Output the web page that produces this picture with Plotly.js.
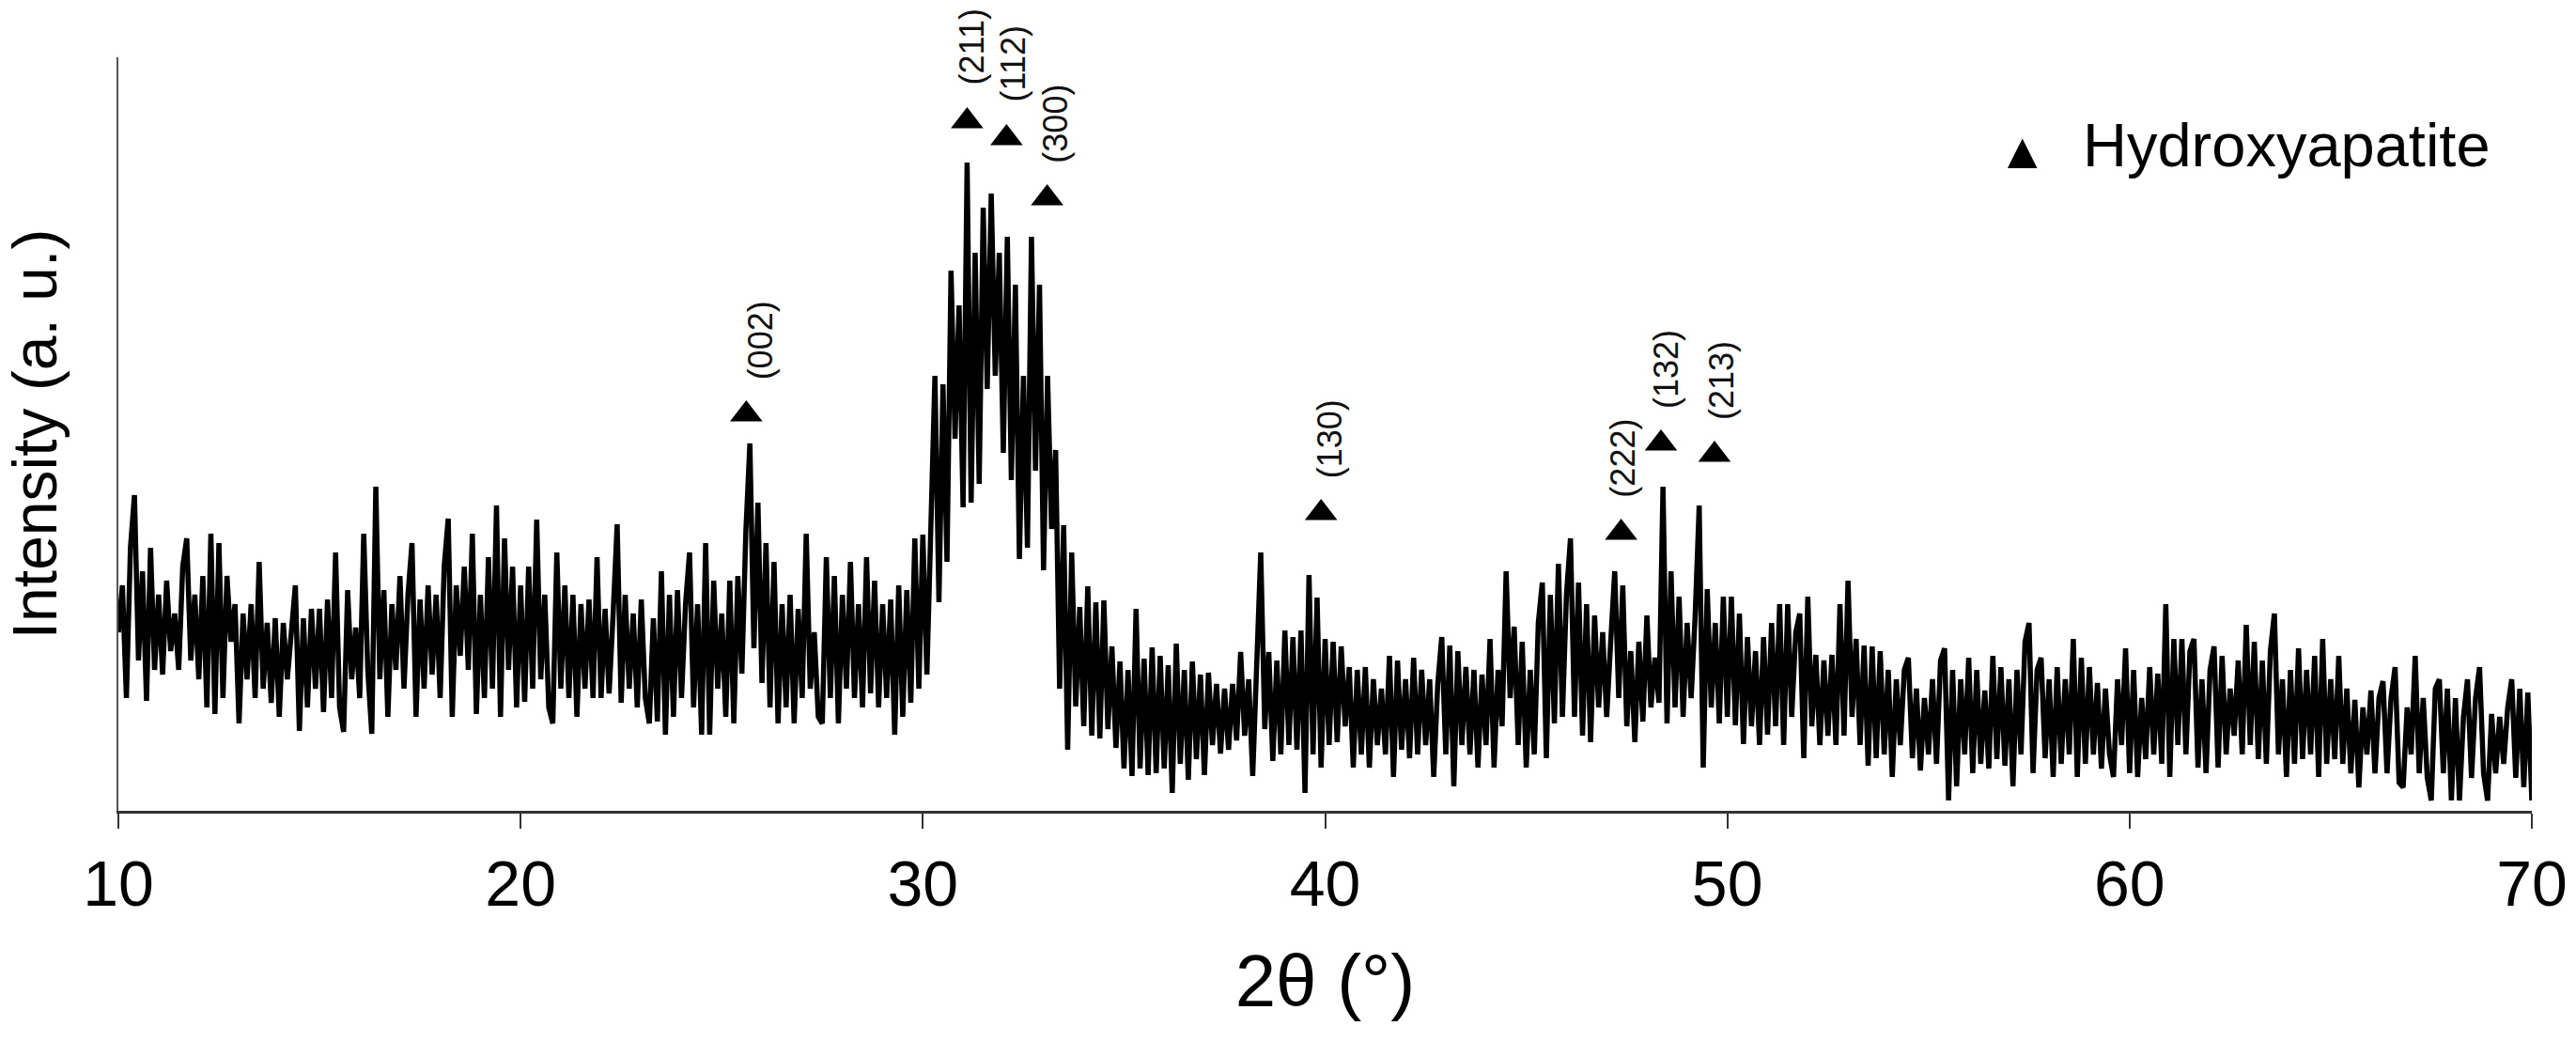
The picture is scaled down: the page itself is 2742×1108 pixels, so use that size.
<!DOCTYPE html>
<html>
<head>
<meta charset="utf-8">
<script src="https://cdn.plot.ly/plotly-3.0.1.min.js"></script>
<style>
  html, body { margin: 0; padding: 0; background: #fff; }
  #chart { width: 2742px; height: 1108px; }
</style>
</head>
<body>
<div id="chart"></div>
<script>
// ---------------- DATA ----------------
// XRD scan: 2θ from 10° to 70°, one reading every 0.1°
const scanStart = 10;
const scanStep = 0.1;
// intensity (a. u.), 10 readings per degree
const intensity = [
  190,240,120,280,336,160,255,117,280,150,   // 10
  230,145,245,170,210,150,260,290,160,230,   // 11
  140,250,110,295,103,285,120,250,180,220,   // 12
  93,210,140,220,120,265,130,200,115,205,    // 13
  100,200,140,195,240,85,205,110,215,130,    // 14
  215,105,225,120,275,110,84,235,140,195,    // 15
  120,295,150,82,345,140,235,100,220,150,    // 16
  250,130,230,285,100,225,130,240,145,230,   // 17
  120,260,311,100,240,165,260,150,295,103,   // 18
  230,120,270,130,325,100,290,150,260,110,   // 19
  240,116,260,130,310,140,230,110,93,275,    // 20
  130,240,120,230,100,220,130,225,120,270,   // 21
  120,215,125,210,305,115,230,130,210,110,   // 22
  225,120,93,205,95,255,81,230,100,235,      // 23
  120,220,275,110,220,81,285,81,245,130,     // 24
  210,100,245,93,250,146,298,391,173,328,    // 25
  136,285,110,265,93,220,110,230,93,215,     // 26
  120,295,130,190,100,93,270,120,250,93,     // 27
  230,130,265,120,220,110,270,125,245,110,   // 28
  220,120,225,81,240,100,235,115,290,130,    // 29
  294,145,321,463,222,454,265,575,396,538,   // 30
  323,690,328,594,348,642,449,657,463,594,   // 31
  381,611,352,560,268,463,280,611,362,560,   // 32
  256,463,300,384,130,304,65,275,111,217,    // 33
  90,239,80,222,77,224,87,175,67,159,        // 34
  45,150,37,215,45,162,38,174,40,165,        // 35
  45,155,19,178,50,150,33,159,55,145,        // 36
  38,147,70,135,61,130,65,135,75,169,        // 37
  80,140,37,150,275,87,169,53,160,60,        // 38
  192,70,185,65,192,19,251,60,227,46,        // 39
  183,70,180,73,175,90,153,46,150,60,        // 40
  153,46,140,70,130,60,165,36,160,65,        // 41
  140,56,163,60,150,70,140,36,135,185,       // 42
  60,176,26,170,70,153,60,150,46,145,        // 43
  70,183,46,150,90,255,120,196,70,180,       // 44
  46,150,60,200,243,56,230,93,263,100,       // 45
  230,290,100,243,80,220,73,208,110,190,     // 46
  100,180,255,120,240,90,170,73,180,95,      // 47
  208,110,163,115,345,93,255,110,228,100,    // 48
  200,120,208,325,46,236,110,200,93,228,     // 49
  100,228,91,210,71,185,90,170,70,185,       // 50
  81,200,90,220,70,220,100,190,210,56,       // 51
  228,90,166,70,160,80,166,70,220,80,        // 52
  245,100,183,70,176,48,175,56,170,60,       // 53
  150,36,140,70,150,163,56,130,43,120,       // 54
  60,140,50,160,173,11,150,26,140,60,        // 55
  163,40,150,50,128,45,165,55,153,48,        // 56
  140,26,150,60,180,200,40,150,163,56,       // 57
  140,36,153,50,140,60,183,36,163,50,        // 58
  153,60,136,45,130,60,36,140,70,173,        // 59
  40,150,36,120,55,153,60,146,50,220,        // 60
  36,183,70,183,60,170,183,46,140,40,        // 61
  150,175,46,165,60,130,80,160,60,198,       // 62
  70,180,55,160,50,170,210,60,140,36,        // 63
  150,50,173,55,150,60,165,36,183,50,        // 64
  140,55,165,50,130,40,118,25,110,60,        // 65
  128,40,120,138,40,120,153,30,25,110,       // 66
  60,165,40,120,35,11,130,140,40,130,        // 67
  11,120,11,100,140,35,120,153,40,11,        // 68
  103,40,100,50,110,140,35,130,25,126,       // 69
  11                                         // 70
];

// Hydroxyapatite reflections
const peakTwoTheta = [25.61, 31.10, 32.08, 33.09, 39.90, 47.36, 48.35, 49.68];
const peakMarkerY  = [422, 734, 716, 652, 317, 296, 391, 379];
const peakLabels   = ['(002)', '(211)', '(112)', '(300)', '(130)', '(222)', '(132)', '(213)'];

const xTickValues = [10, 20, 30, 40, 50, 60, 70];
const xTickLabels = ['10', '20', '30', '40', '50', '60', '70'];
const phaseName = 'Hydroxyapatite';

// ---------------- STYLE ----------------
const FONT = 'Liberation Sans, Arial, Helvetica, sans-serif';
const labelXShift = [15, 5, 7, 8, 9, 1, 5, 7];
const labelYShift = 79;

const twoTheta = intensity.map((_, i) => +(scanStart + scanStep * i).toFixed(2));

const traces = [
  {
    type: 'scatter', mode: 'lines',
    x: twoTheta, y: intensity,
    line: {color: '#000', width: 5.5},
    hoverinfo: 'x+y', showlegend: false
  },
  {
    type: 'scatter', mode: 'markers',
    x: peakTwoTheta, y: peakMarkerY,
    name: phaseName,
    marker: {symbol: 'triangle-up', size: 30, color: '#000'},
    showlegend: false
  }
];

const annotations = peakLabels.map((t, i) => ({
  x: peakTwoTheta[i], y: peakMarkerY[i], xref: 'x', yref: 'y',
  text: t, showarrow: false, textangle: -90,
  xshift: labelXShift[i], yshift: labelYShift,
  font: {family: FONT, size: 36, color: '#111'}
}));

// legend key
annotations.push({
  xref: 'paper', yref: 'paper', x: 0.789, y: 0.877,
  text: '▲', showarrow: false, xanchor: 'center', yanchor: 'middle',
  font: {family: FONT, size: 54, color: '#000'}
});
annotations.push({
  xref: 'paper', yref: 'paper', x: 0.8132, y: 0.884,
  text: phaseName, showarrow: false, xanchor: 'left', yanchor: 'middle',
  font: {family: FONT, size: 65, color: '#000'}
});

const layout = {
  width: 2742, height: 1108,
  margin: {l: 126, r: 47, t: 61, b: 245, pad: 0},
  paper_bgcolor: '#fff', plot_bgcolor: '#fff',
  showlegend: false,
  font: {family: FONT, color: '#000'},
  xaxis: {
    range: [10, 70],
    tickmode: 'array', tickvals: xTickValues, ticktext: xTickLabels,
    ticks: 'outside', ticklen: 16, tickwidth: 2, tickcolor: '#333',
    showline: true, linecolor: '#333', linewidth: 3,
    showgrid: false, zeroline: false,
    tickfont: {family: FONT, size: 68, color: '#000'},
    title: {text: '2θ (°)', font: {family: FONT, size: 78, color: '#000'}, standoff: 40}
  },
  yaxis: {
    range: [0, 802],
    showticklabels: false, ticks: '',
    showline: true, linecolor: '#555', linewidth: 2,
    showgrid: false, zeroline: false,
    title: {text: 'Intensity (a. u.)', font: {family: FONT, size: 66, color: '#000'}, standoff: 60}
  },
  annotations: annotations
};

Plotly.newPlot('chart', traces, layout, {displayModeBar: false, responsive: false});
</script>
</body>
</html>
